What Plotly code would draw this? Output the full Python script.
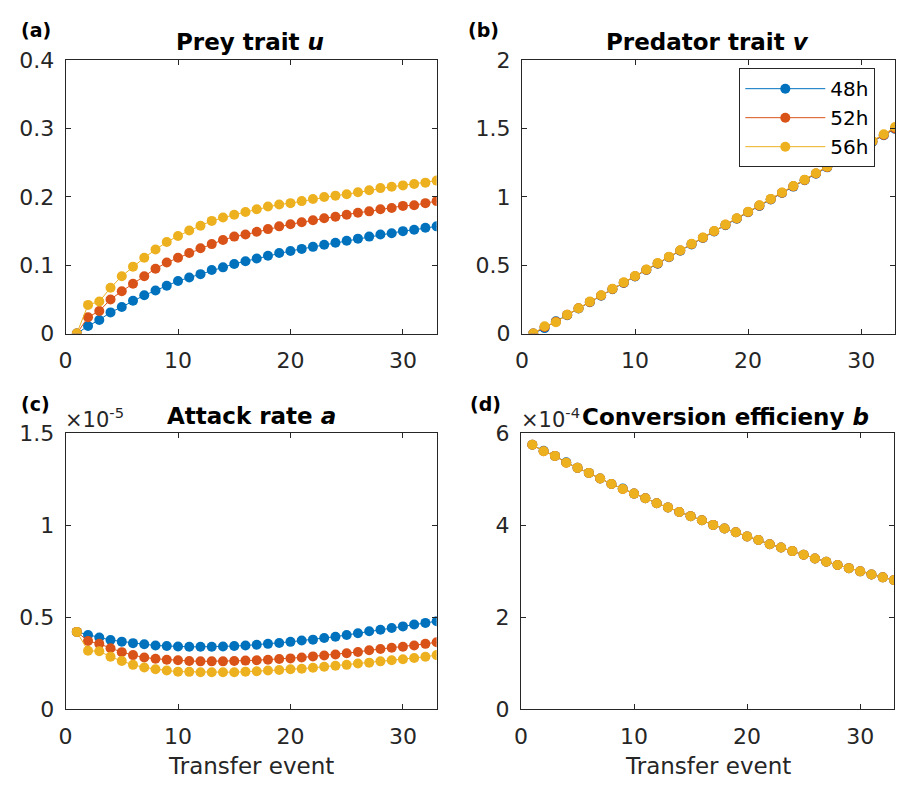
import plotly.graph_objects as go

# Transfer events 1..33
transfer = list(range(1, 34))

series_names = ["48h", "52h", "56h"]
series_colors = ["#0072BD", "#D95319", "#EDB120"]

# (a) Prey trait u
prey_u_48 = [0.000, 0.011, 0.020, 0.031, 0.039, 0.048, 0.056, 0.063, 0.070, 0.077,
             0.082, 0.087, 0.093, 0.097, 0.102, 0.106, 0.110, 0.114, 0.118, 0.121,
             0.124, 0.127, 0.130, 0.133, 0.136, 0.139, 0.142, 0.145, 0.147, 0.150,
             0.152, 0.155, 0.157]
prey_u_52 = [0.000, 0.024, 0.033, 0.050, 0.062, 0.073, 0.084, 0.095, 0.104, 0.111,
             0.118, 0.125, 0.131, 0.137, 0.142, 0.145, 0.149, 0.153, 0.157, 0.160,
             0.163, 0.166, 0.169, 0.171, 0.174, 0.177, 0.179, 0.182, 0.184, 0.187,
             0.188, 0.191, 0.194]
prey_u_56 = [0.000, 0.042, 0.047, 0.067, 0.084, 0.098, 0.111, 0.123, 0.134, 0.143,
             0.151, 0.158, 0.165, 0.170, 0.174, 0.178, 0.182, 0.186, 0.189, 0.191,
             0.194, 0.197, 0.200, 0.202, 0.204, 0.207, 0.210, 0.213, 0.215, 0.217,
             0.219, 0.221, 0.224]

# (b) Predator trait v
pred_v_48 = [0.000, 0.040, 0.090, 0.135, 0.183, 0.230, 0.277, 0.324, 0.371, 0.418,
             0.465, 0.512, 0.559, 0.606, 0.653, 0.700, 0.747, 0.794, 0.841, 0.888,
             0.935, 0.982, 1.029, 1.076, 1.123, 1.170, 1.217, 1.264, 1.311, 1.358,
             1.405, 1.452, 1.499]
pred_v_52 = [0.000, 0.048, 0.086, 0.137, 0.185, 0.232, 0.279, 0.326, 0.373, 0.420,
             0.467, 0.514, 0.561, 0.608, 0.655, 0.702, 0.749, 0.796, 0.843, 0.890,
             0.937, 0.984, 1.031, 1.078, 1.125, 1.172, 1.219, 1.266, 1.313, 1.360,
             1.407, 1.454, 1.502]
pred_v_56 = [0.000, 0.054, 0.083, 0.138, 0.186, 0.234, 0.281, 0.328, 0.375, 0.422,
             0.469, 0.516, 0.563, 0.610, 0.657, 0.704, 0.751, 0.798, 0.845, 0.892,
             0.939, 0.986, 1.033, 1.080, 1.127, 1.174, 1.222, 1.269, 1.316, 1.363,
             1.410, 1.460, 1.512]

# (c) Attack rate a, in units of 1e-5
attack_a_48 = [0.421, 0.404, 0.391, 0.377, 0.368, 0.360, 0.354, 0.347, 0.344, 0.342,
               0.340, 0.340, 0.340, 0.342, 0.344, 0.347, 0.351, 0.356, 0.361, 0.367,
               0.374, 0.379, 0.388, 0.395, 0.404, 0.414, 0.425, 0.433, 0.442, 0.451,
               0.461, 0.470, 0.479]
attack_a_52 = [0.421, 0.372, 0.356, 0.332, 0.311, 0.295, 0.282, 0.275, 0.270, 0.267,
               0.263, 0.261, 0.261, 0.261, 0.263, 0.265, 0.267, 0.270, 0.274, 0.277,
               0.282, 0.288, 0.293, 0.298, 0.305, 0.312, 0.321, 0.328, 0.335, 0.340,
               0.347, 0.356, 0.365]
attack_a_56 = [0.421, 0.319, 0.316, 0.286, 0.263, 0.242, 0.228, 0.218, 0.211, 0.205,
               0.204, 0.202, 0.202, 0.202, 0.202, 0.205, 0.207, 0.211, 0.214, 0.218,
               0.221, 0.226, 0.232, 0.237, 0.242, 0.249, 0.254, 0.261, 0.267, 0.272,
               0.279, 0.286, 0.295]

# (d) Conversion efficiency b, in units of 1e-4
conv_b_48 = [5.75, 5.62, 5.51, 5.37, 5.25, 5.14, 5.02, 4.90, 4.80, 4.69,
             4.59, 4.48, 4.39, 4.29, 4.20, 4.11, 4.01, 3.93, 3.85, 3.76,
             3.68, 3.59, 3.52, 3.44, 3.36, 3.28, 3.21, 3.14, 3.07, 3.00,
             2.93, 2.87, 2.81]
conv_b_52 = [5.75, 5.61, 5.51, 5.36, 5.25, 5.14, 5.02, 4.90, 4.79, 4.69,
             4.59, 4.48, 4.39, 4.29, 4.20, 4.11, 4.01, 3.93, 3.85, 3.76,
             3.68, 3.59, 3.52, 3.44, 3.36, 3.28, 3.21, 3.14, 3.07, 3.00,
             2.93, 2.87, 2.81]
conv_b_56 = [5.75, 5.61, 5.51, 5.36, 5.25, 5.14, 5.02, 4.90, 4.79, 4.69,
             4.59, 4.48, 4.39, 4.29, 4.20, 4.11, 4.01, 3.93, 3.85, 3.76,
             3.68, 3.59, 3.52, 3.44, 3.36, 3.28, 3.21, 3.14, 3.07, 3.00,
             2.93, 2.87, 2.81]

x_ticks = [0, 10, 20, 30]
u_ticks = [0, 0.1, 0.2, 0.3, 0.4]
v_ticks = [0, 0.5, 1, 1.5, 2]
a_ticks = [0, 0.5, 1, 1.5]
b_ticks = [0, 2, 4, 6]

W, H = 906, 796
FONT = "DejaVu Sans"
AX_COLOR = "#262626"

panels = [
    # (series, x-domain px, y-domain px (top, bottom), y range, y ticks)
    ([prey_u_48, prey_u_52, prey_u_56], (59, 433), (50, 332), [0, 0.4], u_ticks),
    ([pred_v_48, pred_v_52, pred_v_56], (519, 895), (50, 332), [0, 2], v_ticks),
    ([attack_a_48, attack_a_52, attack_a_56], (59, 433), (435, 720), [0, 1.5], a_ticks),
    ([conv_b_48, conv_b_52, conv_b_56], (518, 894), (435, 720), [0, 6], b_ticks),
]

fig = go.Figure()
layout_axes = {}
for i, (series, (x0, x1), (yt, yb), yrange, yticks) in enumerate(panels, start=1):
    xa = "x" if i == 1 else f"x{i}"
    ya = "y" if i == 1 else f"y{i}"
    for k, vals in enumerate(series):
        fig.add_trace(go.Scatter(
            x=transfer, y=vals, mode="lines+markers",
            name=series_names[k],
            line=dict(color=series_colors[k], width=1),
            marker=dict(color=series_colors[k], size=10, line=dict(width=0)),
            xaxis=xa, yaxis=ya,
            showlegend=(i == 2),
        ))
    common = dict(
        showline=True, linecolor=AX_COLOR, linewidth=1, mirror="ticks",
        ticks="inside", ticklen=5, tickcolor=AX_COLOR, showgrid=False,
        zeroline=False, tickfont=dict(family=FONT, size=22, color=AX_COLOR),
    )
    layout_axes["xaxis" if i == 1 else f"xaxis{i}"] = dict(
        common, domain=[x0 / W, x1 / W], range=[0, 33], tickvals=x_ticks,
        anchor=ya, ticklabelstandoff=7,
    )
    layout_axes["yaxis" if i == 1 else f"yaxis{i}"] = dict(
        common, domain=[1 - yb / H, 1 - yt / H], range=yrange, tickvals=yticks,
        anchor=xa, ticklabelstandoff=6,
    )

fig.update_layout(**layout_axes)

annotations = []


def add_text(text, x, y, size, color="black", xanchor="center"):
    annotations.append(dict(
        text=text, x=x / W, y=1 - y / H, xref="paper", yref="paper",
        xanchor=xanchor, yanchor="middle", showarrow=False, borderpad=0,
        font=dict(family=FONT, size=size, color=color),
    ))


# Panel titles
add_text("<b>Prey trait <i>u</i></b>", 245, 31, 23)
add_text("<b>Predator trait <i>v</i></b>", 706, 31, 23)
add_text("<b>Attack rate <i>a</i></b>", 246, 417, 23)
add_text("<b>Conversion efficieny <i>b</i></b>", 724, 418, 23)

# Panel letters
add_text("<b>(a)</b>", 13, 19, 19, xanchor="left")
add_text("<b>(b)</b>", 464, 19, 19, xanchor="left")
add_text("<b>(c)</b>", 13, 405, 19, xanchor="left")
add_text("<b>(d)</b>", 466, 405, 19, xanchor="left")

# Exponent multipliers
add_text("×10<sup>-5</sup>", 57, 419, 21, AX_COLOR, xanchor="left")
add_text("×10<sup>-4</sup>", 517, 419, 21, AX_COLOR, xanchor="left")

# X-axis labels
add_text("Transfer event", 246, 778, 23, AX_COLOR)
add_text("Transfer event", 706, 778, 23, AX_COLOR)

fig.update_layout(
    width=W, height=H,
    margin=dict(l=0, r=0, t=0, b=0),
    paper_bgcolor="white", plot_bgcolor="white",
    annotations=annotations,
    legend=dict(
        x=738 / W, y=1 - 58 / H, xanchor="left", yanchor="top",
        bgcolor="white", bordercolor=AX_COLOR, borderwidth=1,
        font=dict(family=FONT, size=20, color="black"),
        itemwidth=80, tracegroupgap=0,
    ),
)

fig.write_html("out.html")
